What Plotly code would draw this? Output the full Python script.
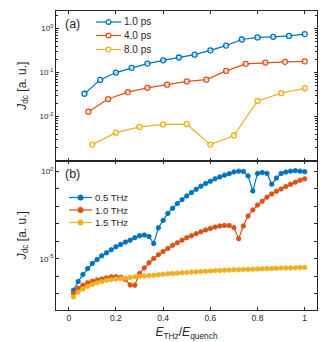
import plotly.graph_objects as go
from plotly.subplots import make_subplots

# ---- panel (a): pulse durations ----
x_1ps = [1/15, 2/15, 3/15, 4/15, 5/15, 6/15, 7/15, 8/15, 9/15, 10/15, 11/15, 12/15, 13/15, 14/15, 1.0]
j_1ps = [0.033, 0.068, 0.10, 0.128, 0.16, 0.19, 0.22, 0.255, 0.32, 0.41, 0.565, 0.63, 0.65, 0.68, 0.75]

x_4ps = [1/12, 2/12, 3/12, 4/12, 5/12, 6/12, 7/12, 8/12, 9/12, 10/12, 11/12, 1.0]
j_4ps = [0.0129, 0.025, 0.036, 0.045, 0.053, 0.063, 0.069, 0.109, 0.158, 0.169, 0.175, 0.18]

x_8ps = [0.1, 0.2, 0.3, 0.4, 0.5, 0.6, 0.7, 0.8, 0.9, 1.0]
j_8ps = [0.0023, 0.0043, 0.0058, 0.0066, 0.0067, 0.0023, 0.0037, 0.0226, 0.034, 0.044]

# ---- panel (b): frequencies ----
x_b = [round(0.02 * (i + 1), 2) for i in range(50)]
j_05 = [1.6e-7, 5.0e-7, 1.26e-6, 2.75e-6, 5.4e-6, 9.1e-6, 1.48e-5, 2.2e-5, 3.3e-5, 4.9e-5,
        6.6e-5, 9.1e-5, 1.17e-4, 1.62e-4, 2.1e-4, 2.3e-4, 1.9e-4, 7.6e-5, 6.0e-4, 1.58e-3,
        4.0e-3, 7.8e-3, 1.45e-2, 2.45e-2, 4.0e-2, 6.2e-2, 9.5e-2, 0.145, 0.204, 0.275,
        0.38, 0.49, 0.62, 0.74, 0.95, 1.05, 1.0, 0.56, 0.076, 0.78,
        0.87, 0.78, 0.186, 0.42, 0.78, 0.93, 1.05, 1.12, 1.05, 0.98]
j_10 = [1.12e-7, 2.1e-7, 3.1e-7, 4.2e-7, 5.2e-7, 6.2e-7, 7.1e-7, 8.1e-7, 9.3e-7, 9.5e-7,
        8.9e-7, 6.5e-7, 3.2e-7, 3.1e-7, 1.45e-6, 3.0e-6, 5.9e-6, 1.05e-5, 1.7e-5, 2.6e-5,
        3.9e-5, 5.9e-5, 8.3e-5, 1.17e-4, 1.62e-4, 2.1e-4, 2.75e-4, 3.5e-4, 4.5e-4, 5.5e-4,
        6.6e-4, 7.6e-4, 8.1e-4, 8.1e-4, 6.0e-4, 1.41e-4, 7.6e-4, 2.8e-3, 6.3e-3, 1.2e-2,
        2.0e-2, 3.4e-2, 5.2e-2, 7.4e-2, 0.10, 0.138, 0.186, 0.245, 0.316, 0.38]
j_15 = [6.6e-8, 1.26e-7, 1.9e-7, 2.6e-7, 3.4e-7, 4.2e-7, 5.0e-7, 5.9e-7, 6.5e-7, 7.1e-7,
        7.4e-7, 7.8e-7, 8.5e-7, 9.3e-7, 1.0e-6, 1.05e-6, 1.10e-6, 1.15e-6, 1.23e-6, 1.32e-6,
        1.38e-6, 1.45e-6, 1.51e-6, 1.58e-6, 1.66e-6, 1.74e-6, 1.82e-6, 1.86e-6, 1.95e-6, 2.0e-6,
        2.1e-6, 2.14e-6, 2.24e-6, 2.3e-6, 2.34e-6, 2.4e-6, 2.45e-6, 2.5e-6, 2.57e-6, 2.63e-6,
        2.7e-6, 2.75e-6, 2.8e-6, 2.9e-6, 2.95e-6, 3.0e-6, 3.0e-6, 3.1e-6, 3.16e-6, 3.2e-6]

BLUE, ORANGE, YELLOW = '#0072BD', '#D95319', '#EDB120'
AX = '#262626'
FONT = 'Liberation Sans, Arial, sans-serif'

# plot box in pixels (for placing the hand-made legends)
L, R, T, B = 48, 309, 3, 302


def px(x):
    return (x - L) / (R - L)


def py(y):
    return (B - y) / (B - T)


fig = make_subplots(rows=2, cols=1, shared_xaxes=True, vertical_spacing=0)

series_a = [(x_1ps, j_1ps, BLUE, '1.0 ps'), (x_4ps, j_4ps, ORANGE, '4.0 ps'), (x_8ps, j_8ps, YELLOW, '8.0 ps')]
series_b = [(x_b, j_05, BLUE, '0.5 THz'), (x_b, j_10, ORANGE, '1.0 THz'), (x_b, j_15, YELLOW, '1.5 THz')]

for xs, ys, c, name in series_a:
    fig.add_trace(go.Scatter(x=xs, y=ys, mode='lines+markers', name=name, showlegend=False,
                             line=dict(color=c, width=1.2),
                             marker=dict(symbol='circle', size=5, color='rgba(255,255,255,0.6)',
                                         line=dict(width=1.3, color=c))),
                  row=1, col=1)

for xs, ys, c, name in series_b:
    fig.add_trace(go.Scatter(x=xs, y=ys, mode='lines+markers', name=name, showlegend=False,
                             line=dict(color=c, width=1.2),
                             marker=dict(symbol='circle', size=4.5, color=c, line=dict(width=0.8, color=c))),
                  row=2, col=1)

# legends drawn by hand so that rows sit as tightly as in the original
shapes, annotations = [], []


def legend_rows(series, x_line0, x_line1, y_rows, filled, fsize):
    for (xs, ys, c, name), yr in zip(series, y_rows):
        shapes.append(dict(type='line', xref='paper', yref='paper', x0=px(x_line0), x1=px(x_line1),
                           y0=py(yr), y1=py(yr), line=dict(color=c, width=1.2)))
        xc = px((x_line0 + x_line1) / 2)
        shapes.append(dict(type='circle', xref='paper', yref='paper', xsizemode='pixel', ysizemode='pixel',
                           xanchor=xc, yanchor=py(yr), x0=-2.4, x1=2.4, y0=-2.4, y1=2.4,
                           fillcolor=c if filled else 'white', line=dict(color=c, width=1.2)))
        annotations.append(dict(text=name, xref='paper', yref='paper', x=px(x_line1 + 1), y=py(yr),
                                xanchor='left', yanchor='middle', showarrow=False,
                                font=dict(size=fsize, color=AX, family=FONT)))


legend_rows(series_a, 88, 113, [14, 27.5, 41.5], False, 10)
legend_rows(series_b, 61, 84, [189.5, 202, 214.5], True, 9.5)

annotations += [
    dict(text='(a)', x=px(55), y=py(16), xref='paper', yref='paper', xanchor='left', yanchor='middle',
         showarrow=False, font=dict(size=12.5, color=AX, family=FONT)),
    dict(text='(b)', x=px(55), y=py(166), xref='paper', yref='paper', xanchor='left', yanchor='middle',
         showarrow=False, font=dict(size=12.5, color=AX, family=FONT)),
]

axis = dict(showline=True, linecolor=AX, linewidth=1, mirror='allticks', ticks='inside',
            ticklen=3, tickcolor=AX, showgrid=False, zeroline=False,
            tickfont=dict(size=8, color=AX, family=FONT))
ytitle = dict(text='<i>J</i><sub>dc</sub> [a. u.]', font=dict(size=12, color=AX, family=FONT), standoff=10)

fig.update_xaxes(**axis, range=[-0.054, 1.052], tickvals=[0, 0.2, 0.4, 0.6, 0.8, 1.0])
fig.update_xaxes(showticklabels=False, row=1, col=1)
fig.update_xaxes(ticktext=['0', '0.2', '0.4', '0.6', '0.8', '1'], showticklabels=True,
                 tickfont=dict(size=8.5, color=AX, family=FONT),
                 title=dict(text='<i>E</i><sub>THz</sub>/<i>E</i><sub>quench</sub>',
                            font=dict(size=12, color=AX, family=FONT), standoff=5),
                 row=2, col=1)

fig.update_yaxes(**axis, type='log', range=[-3, 0.4],
                 tickvals=[1e-2, 1e-1, 1],
                 ticktext=['10<sup>-2</sup>', '10<sup>-1</sup>', '10<sup>0</sup>'],
                 minor=dict(ticks='inside', ticklen=2, tickcolor=AX, dtick='D1'),
                 title=ytitle, row=1, col=1)
fig.update_yaxes(**axis, type='log', range=[-7.93, 0.63],
                 tickvals=[1e-5, 1],
                 ticktext=['10<sup>-5</sup>', '10<sup>0</sup>'],
                 minor=dict(ticks='inside', ticklen=3, tickcolor=AX, tickmode='array',
                            tickvals=[1e-7, 1e-6, 1e-4, 1e-3, 1e-2, 1e-1]),
                 title=ytitle, row=2, col=1)

fig.update_layout(
    shapes=shapes,
    annotations=annotations,
    width=331, height=342,
    margin=dict(l=L, r=331 - R, t=T, b=342 - B),
    plot_bgcolor='white', paper_bgcolor='white',
    font=dict(family=FONT, color=AX),
)

fig.write_html("out.html")
